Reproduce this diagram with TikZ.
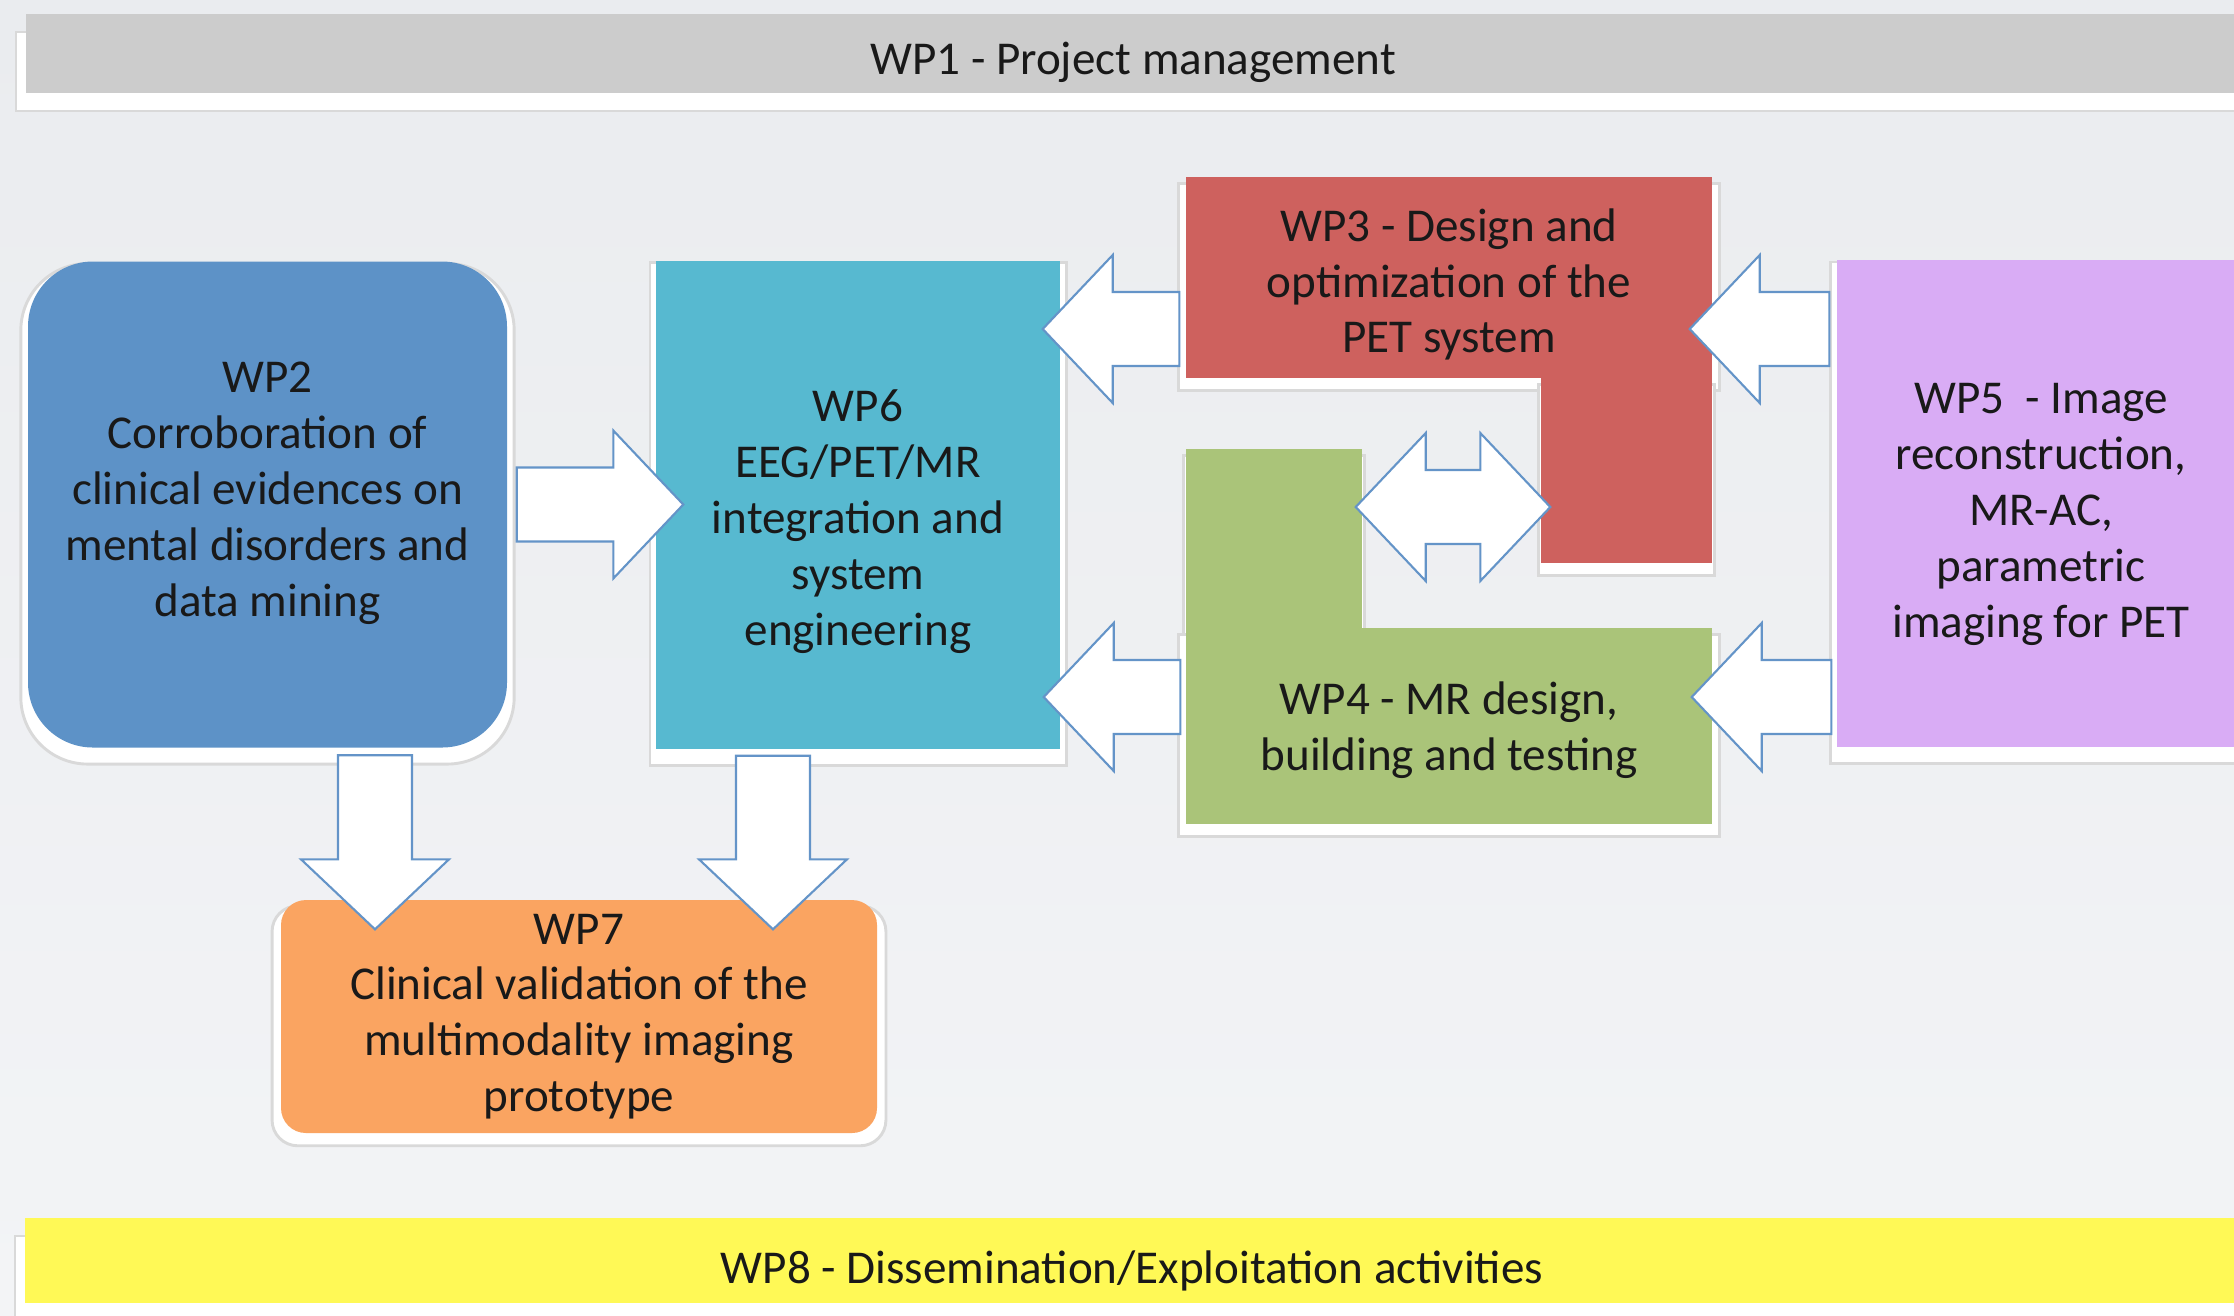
\documentclass[tikz,border=0pt]{standalone}
\usepackage{fontspec}
\setmainfont{Carlito}
\usetikzlibrary{calc,shadows}

\definecolor{bgtop}{RGB}{234,236,239}
\definecolor{bgbot}{RGB}{243,244,246}
\definecolor{barwp1}{RGB}{204,204,204}
\definecolor{boxwp2}{RGB}{93,146,199}
\definecolor{boxwp3}{RGB}{206,97,94}
\definecolor{boxwp4}{RGB}{170,196,121}
\definecolor{boxwp5}{RGB}{217,172,245}
\definecolor{boxwp6}{RGB}{87,185,208}
\definecolor{boxwp7}{RGB}{250,164,97}
\definecolor{barwp8}{RGB}{255,249,86}
\definecolor{arrowline}{RGB}{100,148,200}
\definecolor{wptext}{RGB}{25,25,25}

\newcommand{\shaftw}{0.37cm}
\newcommand{\headw}{0.74cm}
\newcommand{\headl}{0.7cm}

\tikzset{
  wptxt/.style={inner sep=0pt, align=center, text=wptext,
    font=\fontsize{13.4pt}{15.9pt}\selectfont},
  wp/.style={rectangle, inner sep=0pt, general shadow={fill=white, draw=black!15,
    line width=0.8pt, shadow scale=1.03, shadow yshift=-0.09cm}},
  bar/.style={rectangle, inner sep=0pt, minimum width=22.6cm, general shadow={fill=white,
    draw=black!15, line width=0.8pt, shadow xshift=-0.10cm, shadow yshift=-0.18cm}},
  blk/.style={fill=white, draw=arrowline, line width=0.6pt, line join=miter,
    to path={
      ($(\tikztostart)!\shaftw!90:(\tikztotarget)$)
      -- ($($(\tikztotarget)!\headl!(\tikztostart)$)!\shaftw!90:(\tikztotarget)$)
      -- ($($(\tikztotarget)!\headl!(\tikztostart)$)!\headw!90:(\tikztotarget)$)
      -- (\tikztotarget)
      -- ($($(\tikztotarget)!\headl!(\tikztostart)$)!\headw!-90:(\tikztotarget)$)
      -- ($($(\tikztotarget)!\headl!(\tikztostart)$)!\shaftw!-90:(\tikztotarget)$)
      -- ($(\tikztostart)!\shaftw!-90:(\tikztotarget)$)
      -- cycle}},
  blkdbl/.style={fill=white, draw=arrowline, line width=0.6pt, line join=miter,
    to path={
      (\tikztostart)
      -- ($($(\tikztostart)!\headl!(\tikztotarget)$)!\headw!-90:(\tikztotarget)$)
      -- ($($(\tikztostart)!\headl!(\tikztotarget)$)!\shaftw!-90:(\tikztotarget)$)
      -- ($($(\tikztotarget)!\headl!(\tikztostart)$)!\shaftw!-90:(\tikztotarget)$)
      -- ($($(\tikztotarget)!\headl!(\tikztostart)$)!\headw!-90:(\tikztotarget)$)
      -- (\tikztotarget)
      -- ($($(\tikztotarget)!\headl!(\tikztostart)$)!\headw!90:(\tikztotarget)$)
      -- ($($(\tikztotarget)!\headl!(\tikztostart)$)!\shaftw!90:(\tikztotarget)$)
      -- ($($(\tikztostart)!\headl!(\tikztotarget)$)!\shaftw!90:(\tikztotarget)$)
      -- ($($(\tikztostart)!\headl!(\tikztotarget)$)!\headw!90:(\tikztotarget)$)
      -- cycle}}
}

\begin{document}
\begin{tikzpicture}
\path[use as bounding box] (0,0) rectangle (22.34,-13.15);
\shade[top color=bgtop, bottom color=bgbot] (0,0) rectangle (22.34,-13.15);

% bars
\node[bar, fill=barwp1, minimum height=0.79cm] (wp1) at (11.56,-0.535) {};
\node[bar, fill=barwp8, minimum height=0.85cm] (wp8) at (11.55,-12.605) {};

% boxes
\node[wp, fill=boxwp2, rounded corners=0.65cm, minimum width=4.79cm, minimum height=4.86cm] (wp2) at (2.675,-5.045) {};
\node[wp, fill=boxwp6, minimum width=4.04cm, minimum height=4.88cm] (wp6) at (8.58,-5.045) {};
\node[wp, fill=boxwp3, minimum width=5.26cm, minimum height=2.01cm] (wp3) at (14.49,-2.775) {};
\node[wp, fill=boxwp3, minimum width=1.71cm, minimum height=1.85cm] (wp3leg) at (16.265,-4.705) {};
\node[wp, fill=boxwp4, minimum width=1.76cm, minimum height=1.81cm] (wp4leg) at (12.74,-5.395) {};
\node[wp, fill=boxwp4, minimum width=5.26cm, minimum height=1.96cm] (wp4) at (14.49,-7.26) {};
\node[wp, fill=boxwp5, minimum width=4.08cm, minimum height=4.87cm] (wp5) at (20.41,-5.035) {};
\node[wp, fill=boxwp7, rounded corners=0.25cm, minimum width=5.96cm, minimum height=2.33cm] (wp7) at (5.79,-10.165) {};

% texts
\node[wptxt] (t1) at (11.33,-0.625) {WP1 - Project management};
\node[wptxt] (t8) at (11.32,-12.705) {WP8 - Dissemination/Exploitation activities};
\node[wptxt] (t2) at ([yshift=0.11cm]wp2) {WP2\\Corroboration of\\clinical evidences on\\mental disorders and\\data mining};
\node[wptxt] (t6) at ([yshift=-0.17cm]wp6) {WP6\\EEG/PET/MR\\integration and\\system\\engineering};
\node[wptxt] (t3) at ([yshift=-0.07cm]wp3) {WP3 - Design and\\optimization of the\\PET system};
\node[wptxt] (t4) at ([yshift=-0.04cm]wp4) {WP4 - MR design,\\building and testing};
\node[wptxt] (t5) at ([yshift=-0.11cm]wp5) {WP5~ - Image\\reconstruction,\\MR-AC,\\parametric\\imaging for PET};
\node[wptxt] (t7) at (wp7) {WP7\\Clinical validation of the\\multimodality imaging\\prototype};

% arrows
\draw[blk] ([xshift=0.09cm]wp2.east) to ([xshift=0.28cm]wp6.west);
\draw[blk] ([shift={(-0.06,-0.515)}]wp3.west) to ([shift={(-0.18,1.755)}]wp6.east);
\draw[blk] ([shift={(-0.05,0.29)}]wp4.west) to ([shift={(-0.17,-1.925)}]wp6.east);
\draw[blkdbl] ([shift={(-0.07,0.325)}]wp4leg.east) to ([shift={(0.10,-0.365)}]wp3leg.west);
\draw[blk] ([shift={(-0.07,1.745)}]wp5.west) to ([shift={(-0.23,-0.515)}]wp3.east);
\draw[blk] ([shift={(-0.05,-1.935)}]wp5.west) to ([shift={(-0.21,0.29)}]wp4.east);
\draw[blk] ([shift={(1.075,-0.07)}]wp2.south) to ([shift={(-2.04,-0.30)}]wp7.north);
\draw[blk] ([shift={(-0.85,-0.065)}]wp6.south) to ([shift={(1.94,-0.30)}]wp7.north);
\end{tikzpicture}
\end{document}
